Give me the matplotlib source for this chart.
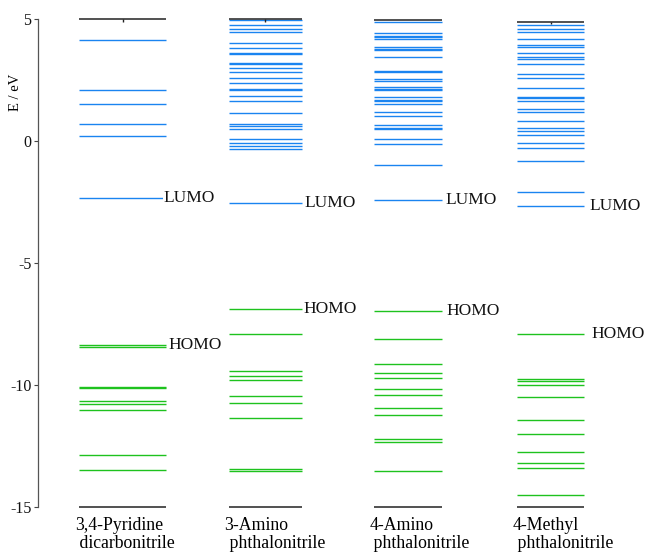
import matplotlib
matplotlib.use("Agg")
import matplotlib.pyplot as plt
import matplotlib.transforms as mtransforms

plt.rcParams['font.family'] = ['Liberation Serif', 'DejaVu Serif']

# molecule names (two lines each)
molecules = ["3,4-Pyridine\n dicarbonitrile", "3-Amino\n phthalonitrile",
             "4-Amino\n phthalonitrile", "4-Methyl\n phthalonitrile"]

# unoccupied levels, eV (lowest one is the LUMO)
virt_1 = [4.14, 2.11, 1.52, 0.70, 0.23, -2.31]
virt_2 = [4.97, 4.75, 4.61, 4.48, 4.04, 3.81, 3.63, 3.57, 3.22, 3.16, 3.02,
          2.83, 2.58, 2.40, 2.16, 2.10, 1.84, 1.66, 1.17, 0.70, 0.64, 0.50,
          0.11, -0.08, -0.18, -0.33, -2.53]
virt_3 = [4.90, 4.43, 4.32, 4.26, 4.18, 3.88, 3.78, 3.74, 3.47, 2.89, 2.85,
          2.55, 2.48, 2.24, 2.16, 2.09, 1.80, 1.69, 1.64, 1.54, 1.19, 1.02,
          0.66, 0.56, 0.51, 0.09, -0.12, -0.96, -2.41]
virt_4 = [4.78, 4.60, 4.47, 4.18, 3.96, 3.85, 3.63, 3.45, 3.37, 3.18, 2.76,
          2.61, 2.20, 1.83, 1.76, 1.66, 1.34, 1.19, 0.82, 0.56, 0.41, 0.27,
          -0.06, -0.26, -0.80, -2.08, -2.64]

# occupied levels, eV (highest one is the HOMO)
occ_1 = [-8.36, -8.44, -10.08, -10.12, -10.63, -10.78, -11.00, -12.84, -13.49]
occ_2 = [-6.87, -7.91, -9.43, -9.62, -9.80, -10.45, -10.74, -11.33, -13.44,
         -13.52]
occ_3 = [-6.95, -8.10, -9.11, -9.48, -9.71, -10.16, -10.41, -10.94, -11.23,
         -12.21, -12.32, -13.52]
occ_4 = [-7.91, -9.75, -9.84, -9.99, -10.48, -11.42, -11.98, -12.72, -13.17,
         -13.40, -14.51]

# window edges drawn in black
top_edge = [5.0, 5.0, 4.97, 4.90]
bottom_edge = [-15.0, -15.0, -15.0, -15.0]

virt = [virt_1, virt_2, virt_3, virt_4]
occ = [occ_1, occ_2, occ_3, occ_4]
xpos = [1, 2, 3, 4]
half = [0.305, 0.255, 0.24, 0.235]
lumo_shift = [-2.2, 2.2, 2.5, 3.6]   # label offsets, points
homo_shift = [1.5, 1.5, 3.0, 4.8]

BLUE = '#1a84f0'
GREEN = '#1ec21e'

fig = plt.figure(figsize=(6.45, 5.54), dpi=100)
ax = fig.add_axes([38.3 / 645, 46.7 / 554, 606.7 / 645, 488.0 / 554])

for i, x in enumerate(xpos):
    x0, x1 = x - half[i], x + half[i]
    ax.hlines(virt[i], x0, x1, color=BLUE, lw=1.0)
    ax.hlines(occ[i], x0, x1, color=GREEN, lw=1.0)
    ax.hlines([top_edge[i], bottom_edge[i]], x0, x1, color='#222222',
              lw=1.1, clip_on=False)

    lumo = min(virt[i])
    homo = max(occ[i])
    for val, name, dx in [(lumo, 'LUMO', lumo_shift[i]),
                          (homo, 'HOMO', homo_shift[i])]:
        ax.annotate(name, (x1, val), xytext=(dx, 0), textcoords='offset points',
                    ha='left', va='center', fontsize=12.5, color='#111111',
                    bbox=dict(fc='white', ec='none', pad=0.1))

# small marks hanging from the top edge
for i in (0, 1, 3):
    ax.vlines(xpos[i], top_edge[i] - 0.1, top_edge[i], color='#222222', lw=1.0)

ax.set_xlim(0.41, 4.66)
ax.set_ylim(-15, 5)
ax.set_yticks([5, 0, -5, -10, -15])
ax.set_yticklabels(['5', '0', '-5', '-10', '-15'])
ax.tick_params(axis='y', direction='out', length=3, width=0.8,
               colors='#444444', labelcolor='#111111', labelsize=11.5, pad=2)
ax.set_xticks([])
for s in ('top', 'right', 'bottom'):
    ax.spines[s].set_visible(False)
ax.spines['left'].set_color('#555555')
ax.spines['left'].set_linewidth(0.9)

ax.text(-23 / 606.7, 2.0, 'E / eV', rotation=90, ha='center', va='center',
        fontsize=10.5, transform=mtransforms.blended_transform_factory(
            ax.transAxes, ax.transData))

# molecule names under each column
trans = mtransforms.blended_transform_factory(ax.transData, ax.transAxes)
for i, x in enumerate(xpos):
    ax.text(x - half[i] - 0.03, -0.02, molecules[i], transform=trans,
            ha='left', va='top', fontsize=12.8, linespacing=1.1)

fig.savefig('out.png', dpi=100)
